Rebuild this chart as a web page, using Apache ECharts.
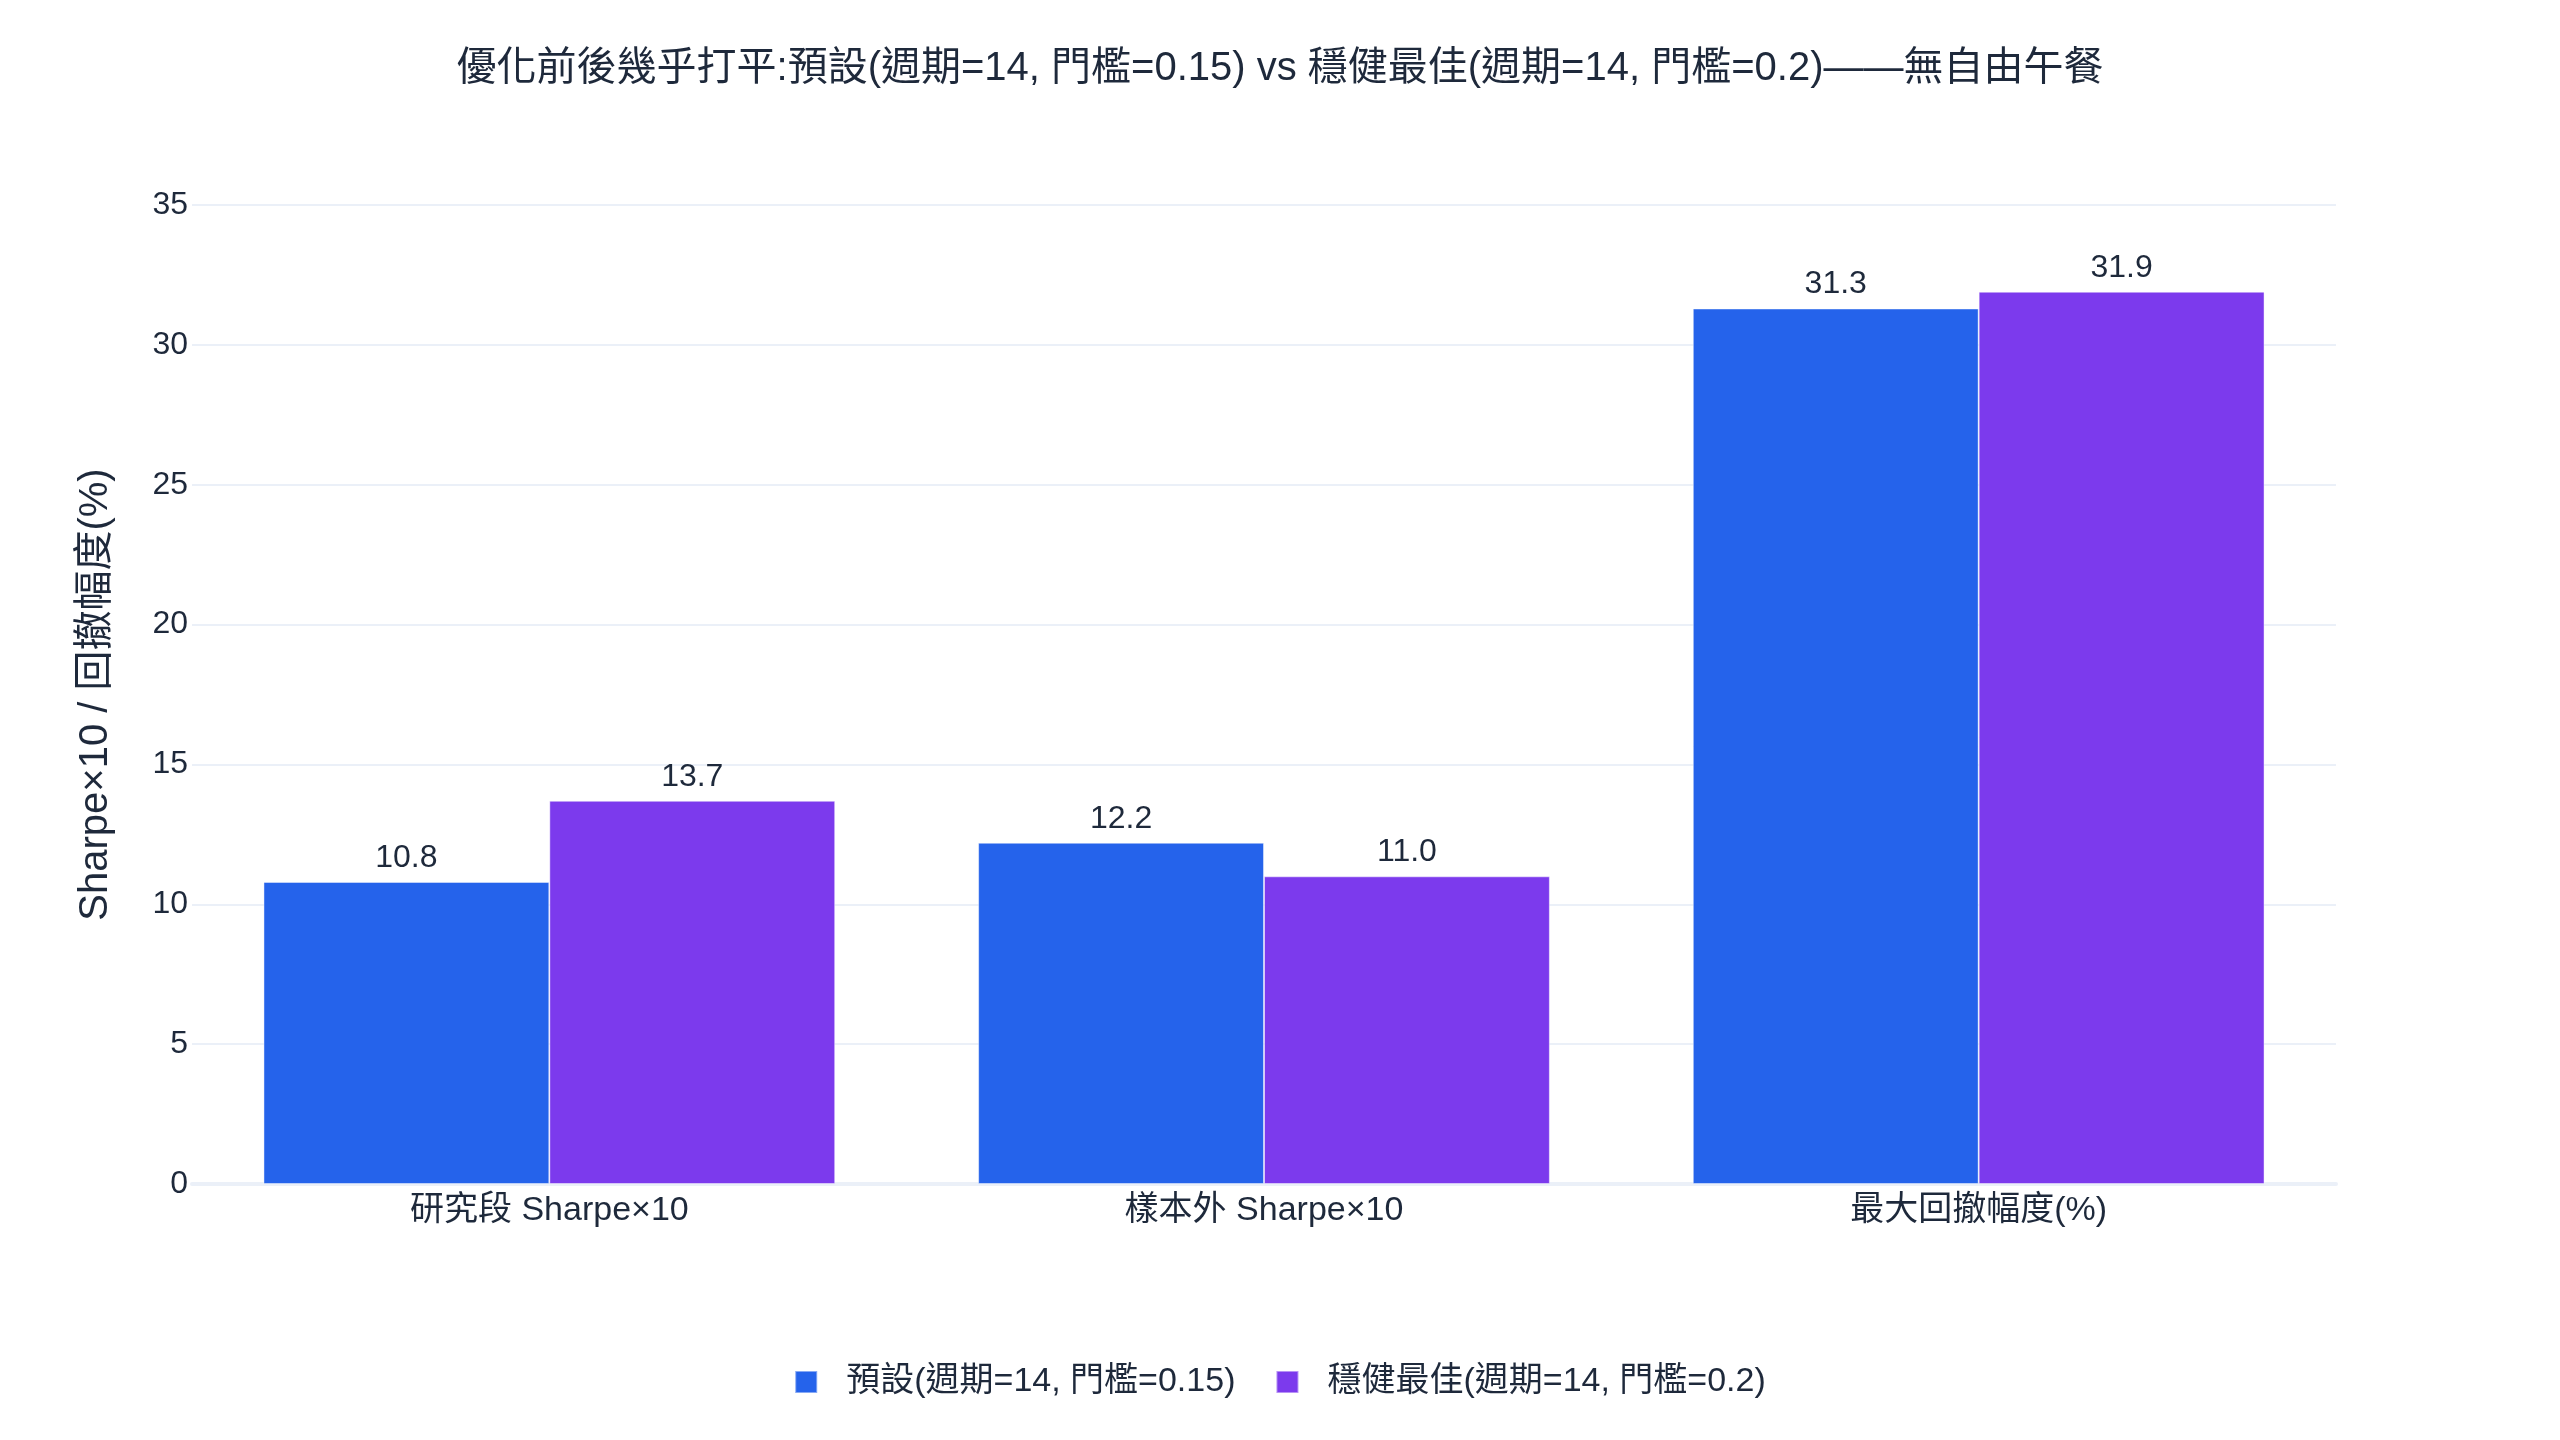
<!DOCTYPE html>
<html>
<head>
<meta charset="utf-8">
<title>優化前後比較</title>
<script src="https://cdn.jsdelivr.net/npm/echarts@6/dist/echarts.min.js"></script>
<style>
  html, body { margin: 0; padding: 0; background: #ffffff; }
  #chart { width: 2560px; height: 1440px; }
</style>
</head>
<body>
<div id="chart"></div>
<script>
/****** DATA ******/
var categories = ['研究段 Sharpe×10', '樣本外 Sharpe×10', '最大回撤幅度(%)'];
var seriesNames = ['預設(週期=14, 門檻=0.15)', '穩健最佳(週期=14, 門檻=0.2)'];
var defaultValues = [10.8, 12.2, 31.3];
var robustValues = [13.7, 11.0, 31.9];
var yTicks = [0, 5, 10, 15, 20, 25, 30, 35];

var titleText = '優化前後幾乎打平:預設(週期=14, 門檻=0.15) vs 穩健最佳(週期=14, 門檻=0.2)——無自由午餐';
var yName = 'Sharpe×10 / 回撤幅度(%)';

/****** STYLE ******/
var fontFam = '"Liberation Sans", Arial, "Noto Sans CJK TC", sans-serif';
var textColor = '#1e293b';
var gridColor = '#ebf0f8';
var colors = ['#2563eb', '#7c3aed'];

var chart = echarts.init(document.getElementById('chart'));

function barSeries(name, values, color) {
    return {
        name: name,
        type: 'bar',
        data: values,
        barGap: '0%',
        barCategoryGap: '20%',
        itemStyle: {
            color: color,
            borderColor: 'rgba(255,255,255,0.45)',
            borderWidth: 1
        },
        label: {
            show: true,
            position: 'top',
            distance: 8,
            color: textColor,
            fontFamily: fontFam,
            fontSize: 32,
            formatter: function (p) { return p.value.toFixed(1); }
        }
    };
}

var option = {
    backgroundColor: '#ffffff',
    animation: false,
    title: {
        text: titleText,
        left: 'center',
        top: 44,
        textStyle: {
            color: textColor,
            fontFamily: fontFam,
            fontSize: 40,
            fontWeight: 'normal'
        }
    },
    legend: {
        data: seriesNames,
        left: 'center',
        top: 1360,
        itemWidth: 22,
        itemHeight: 22,
        itemGap: 40,
        icon: 'rect',
        textStyle: {
            color: textColor,
            fontFamily: fontFam,
            fontSize: 34,
            padding: [0, 0, 0, 24]
        }
    },
    grid: {
        left: 192,
        right: 224,
        top: 205,
        bottom: 256,
        containLabel: false
    },
    xAxis: {
        type: 'category',
        data: categories,
        axisTick: { show: false },
        axisLine: { show: true, lineStyle: { color: gridColor, width: 4 } },
        axisLabel: {
            color: textColor,
            fontFamily: fontFam,
            fontSize: 34,
            margin: 10
        }
    },
    yAxis: {
        type: 'value',
        min: yTicks[0],
        max: yTicks[yTicks.length - 1],
        interval: 5,
        name: yName,
        nameLocation: 'middle',
        nameGap: 76,
        nameTextStyle: {
            color: textColor,
            fontFamily: fontFam,
            fontSize: 40
        },
        axisLine: { show: false },
        axisTick: { show: false },
        axisLabel: {
            color: textColor,
            fontFamily: fontFam,
            fontSize: 32,
            margin: 4
        },
        splitLine: { lineStyle: { color: gridColor, width: 2 } }
    },
    series: [
        barSeries(seriesNames[0], defaultValues, colors[0]),
        barSeries(seriesNames[1], robustValues, colors[1])
    ]
};

chart.setOption(option);
</script>
</body>
</html>
